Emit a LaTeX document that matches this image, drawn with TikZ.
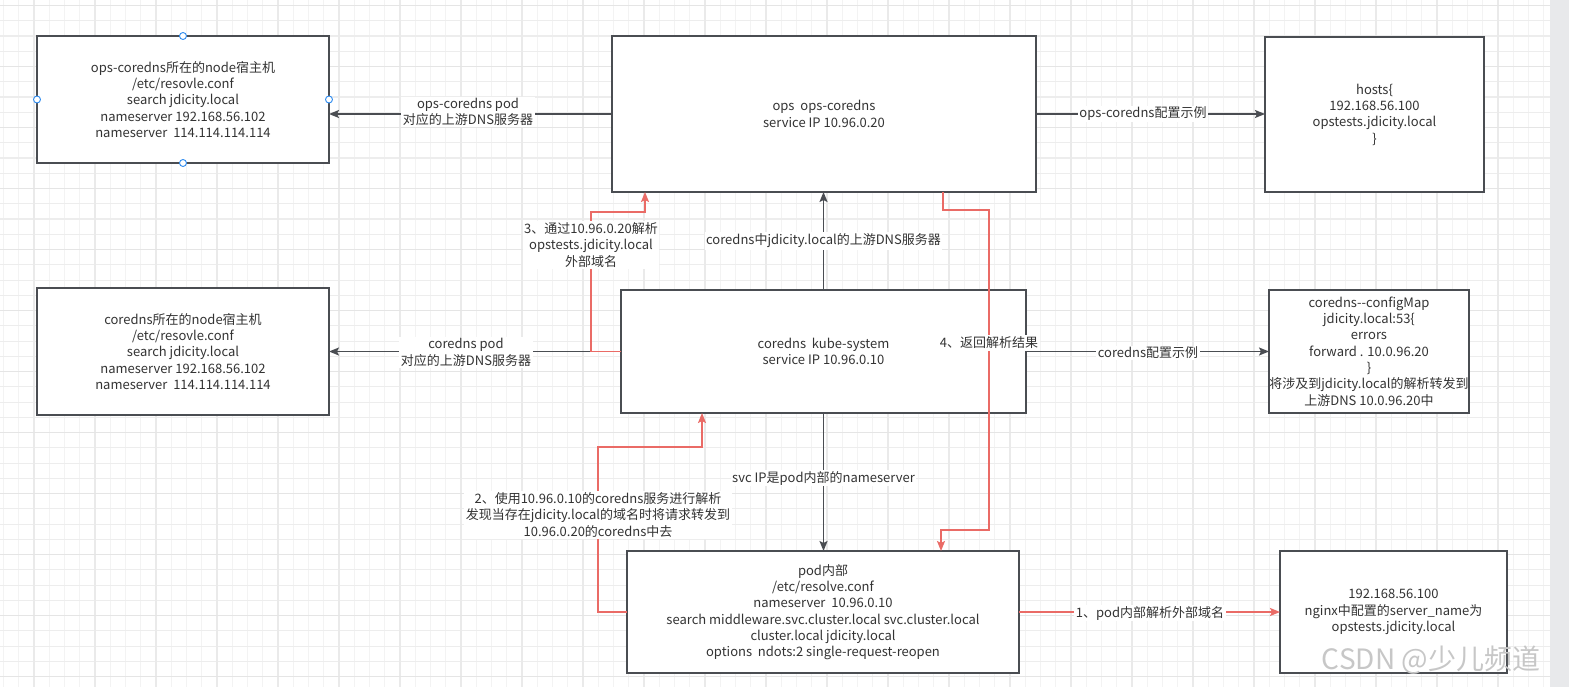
\documentclass[tikz,border=0pt]{standalone}
\usepackage{fontspec}
\setmainfont{Noto Sans CJK SC}
\usetikzlibrary{arrows.meta,calc}
\definecolor{boxline}{HTML}{4A4D52}
\definecolor{txt}{HTML}{333333}
\definecolor{redl}{HTML}{EA6B66}
\definecolor{gridminor}{HTML}{F3F3F3}
\definecolor{gridmajor}{HTML}{EAEAEA}
\definecolor{handleblue}{HTML}{2F8CF0}
\definecolor{sidebar}{HTML}{E8E9EB}
\begin{document}
\begin{tikzpicture}[x=1pt,y=-1pt,
  box/.style={draw=boxline, line width=1.5pt, fill=white, inner sep=0pt, outer sep=0pt,
    align=center, text=txt, font=\fontsize{13}{16.3}\selectfont},
  lbl/.style={fill=white, inner sep=1.5pt, align=center, text=txt, font=\fontsize{13}{16.3}\selectfont},
  blk/.style={draw=boxline, line width=1.5pt, -{Stealth[length=10pt,width=8pt,inset=2pt]}},
  redarrow/.style={draw=redl, line width=1.5pt, -{Stealth[length=10pt,width=8pt,inset=2pt]}},
  handle/.style={circle, draw=handleblue, fill=white, line width=0.9pt, minimum size=7pt, inner sep=0pt}
]
\useasboundingbox (0,0) rectangle (1569,687);
\fill[white] (0,0) rectangle (1569,687);
% grid
\draw[gridminor, line width=1.2pt] \foreach \i in {0,...,101} {({3.5+15.25*\i},0) -- ({3.5+15.25*\i},687)};
\foreach \j in {0,...,45} {\path[fill=black!7] (0,{5+15.25*\j}) rectangle (1550,{6.2+15.25*\j});}
\draw[gridmajor, line width=1.4pt] \foreach \i in {0,...,25} {({34+61*\i},0) -- ({34+61*\i},687)};
\foreach \j in {0,...,11} {\path[fill=black!10] (0,{4.8+61*\j}) rectangle (1550,{6.4+61*\j});}
\fill[sidebar] (1550,0) rectangle (1569,687);

% boxes
\node[box, minimum width=292pt, minimum height=127pt] (h1) at (183,99.5)
  {ops-coredns所在的node宿主机\\/etc/resovle.conf\\search jdicity.local\\nameserver 192.168.56.102\\nameserver\ \ 114.114.114.114};
\node[box, minimum width=424pt, minimum height=156pt] (ops) at (824,114)
  {ops\ \ ops-coredns\\service IP 10.96.0.20};
\node[box, minimum width=219pt, minimum height=155pt] (hosts) at (1374.5,114.5)
  {hosts\{\\192.168.56.100\\opstests.jdicity.local\\\}};
\node[box, minimum width=292pt, minimum height=127pt] (h2) at (183,351.5)
  {coredns所在的node宿主机\\/etc/resovle.conf\\search jdicity.local\\nameserver 192.168.56.102\\nameserver\ \ 114.114.114.114};
\node[box, minimum width=405pt, minimum height=123pt] (core) at (823.5,351.5)
  {coredns\ \ kube-system\\service IP 10.96.0.10};
\node[box, minimum width=200pt, minimum height=123pt] (cfg) at (1369,351.5)
  {coredns-{}-configMap\\jdicity.local:53\{\\errors\\forward . 10.0.96.20\\\}\\将涉及到jdicity.local的解析转发到\\上游DNS 10.0.96.20中};
\node[box, minimum width=392pt, minimum height=122pt] (pod) at (823,612)
  {pod内部\\/etc/resolve.conf\\nameserver\ \ 10.96.0.10\\search middleware.svc.cluster.local svc.cluster.local\\cluster.local jdicity.local\\options\ \ ndots:2 single-request-reopen};
\node[box, minimum width=227pt, minimum height=122pt] (nginx) at (1393.5,612)
  {192.168.56.100\\nginx中配置的server\_name为\\opstests.jdicity.local};

% selection handles
\foreach \a in {north,south,east,west} \node[handle] (hd-\a) at (h1.\a) {};

% black connectors
\draw[blk] (ops.west) -- (ops.west -| h1.east);
\node[lbl] (l1) at (468,112) {ops-coredns pod\\对应的上游DNS服务器};
\draw[blk] (ops.east) -- (ops.east -| hosts.west);
\node[lbl] (l2) at (1143,114) {ops-coredns配置示例};
\draw[blk] (core.north) -- (core.north |- ops.south);
\node[lbl] (l3) at (823.5,241) {coredns中jdicity.local的上游DNS服务器};
\draw[blk] (core.west) -- (core.west -| h2.east);
\node[lbl] (l4) at (466,352.5) {coredns pod\\对应的上游DNS服务器};
\draw[blk] (core.east) -- (cfg.west);
\node[lbl] (l5) at (1148,353) {coredns配置示例};
\draw[blk] (core.south) -- (core.south |- pod.north);
\node[lbl] (l6) at (823.5,478) {svc IP是pod内部的nameserver};

% red connectors
\coordinate (r3a) at (591,212);
\coordinate (r3b) at ($(ops.south west)+(33,0)$);
\draw[redarrow] (core.west) -| (r3a) -| (r3b);
\node[lbl] (l7) at (591,245) {3、通过10.96.0.20解析\\opstests.jdicity.local\\外部域名};

\coordinate (r4s) at ($(ops.south west)+(331,0)$);
\coordinate (r4a) at (989,210);
\coordinate (r4b) at (941,530);
\coordinate (r4e) at ($(pod.north west)+(314,0)$);
\draw[redarrow] (r4s) |- (r4a) |- (r4b) -- (r4e);
\node[lbl] (l8) at (989,343) {4、返回解析结果};

\coordinate (r2a) at (598,447);
\coordinate (r2e) at ($(core.south west)+(81,0)$);
\draw[redarrow] (pod.west) -| (r2a) -| (r2e);
\node[lbl] (l9) at (598,515) {2、使用10.96.0.10的coredns服务进行解析\\发现当存在jdicity.local的域名时将请求转发到\\10.96.0.20的coredns中去};

\draw[redarrow] (pod.east) -- (nginx.west);
\node[lbl] (l10) at (1150,613) {1、pod内部解析外部域名};

% watermark
\node[text=black!22, font=\fontsize{28}{32}\selectfont, inner sep=0pt] (wm) at (1431,660) {CSDN @少儿频道};
\end{tikzpicture}
\end{document}
